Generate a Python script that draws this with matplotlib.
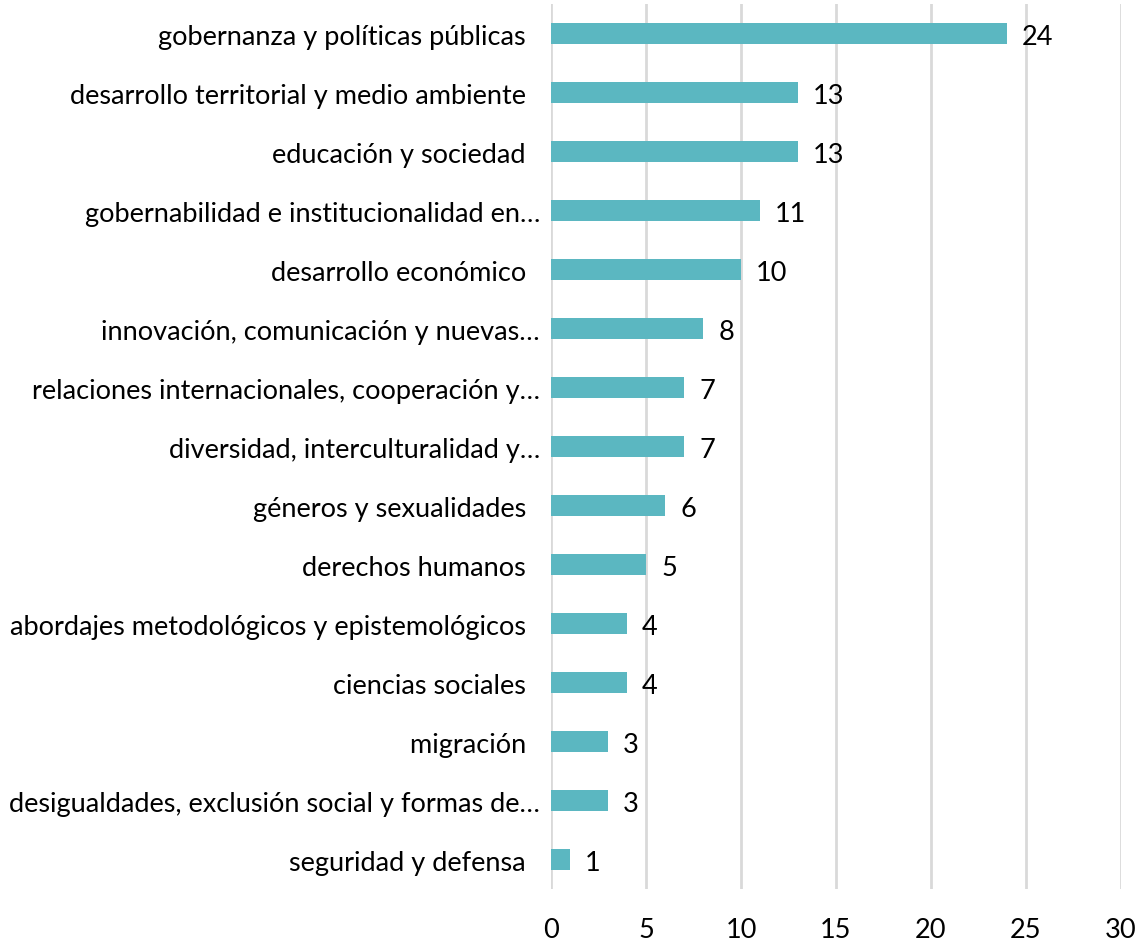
import matplotlib.pyplot as plt
import numpy as np

categories = [
    "gobernanza y políticas públicas  ",
    "desarrollo territorial y medio ambiente  ",
    "educación y sociedad  ",
    "gobernabilidad e institucionalidad en…",
    "desarrollo económico  ",
    "innovación, comunicación y nuevas…",
    "relaciones internacionales, cooperación y…",
    "diversidad, interculturalidad y…",
    "géneros y sexualidades  ",
    "derechos humanos  ",
    "abordajes metodológicos y epistemológicos  ",
    "ciencias sociales  ",
    "migración  ",
    "desigualdades, exclusión social y formas de…",
    "seguridad y defensa  ",
]
values = [24, 13, 13, 11, 10, 8, 7, 7, 6, 5, 4, 4, 3, 3, 1]
xticks = [0, 5, 10, 15, 20, 25, 30]

plt.rcParams['font.family'] = ['Lato', 'DejaVu Sans']
fs = 19.5

fig = plt.figure(figsize=(11.38, 9.45), dpi=100)
ax = fig.add_axes([0.4842, 0.0582, 0.5008, 0.9365])

y = np.arange(len(categories))
ax.barh(y, values, height=0.36, color='#5BB7C1', zorder=3)
for yi, v in zip(y, values):
    ax.text(v + 0.8, yi, str(v), va='center_baseline', ha='left', fontsize=fs, color='black')

ax.set_ylim(len(categories) - 0.5, -0.5)
ax.set_xlim(0, 30)
ax.set_xticks(xticks)
ax.set_yticks(y)
ax.set_yticklabels(categories, fontsize=fs, va='center_baseline')
ax.tick_params(axis='x', labelsize=fs, length=0, pad=20)
ax.tick_params(axis='y', length=0, pad=8)
ax.xaxis.grid(True, color='#D9D9D9', linewidth=2)
ax.set_axisbelow(True)
for s in ax.spines.values():
    s.set_visible(False)

fig.savefig('out.png', dpi=100)
